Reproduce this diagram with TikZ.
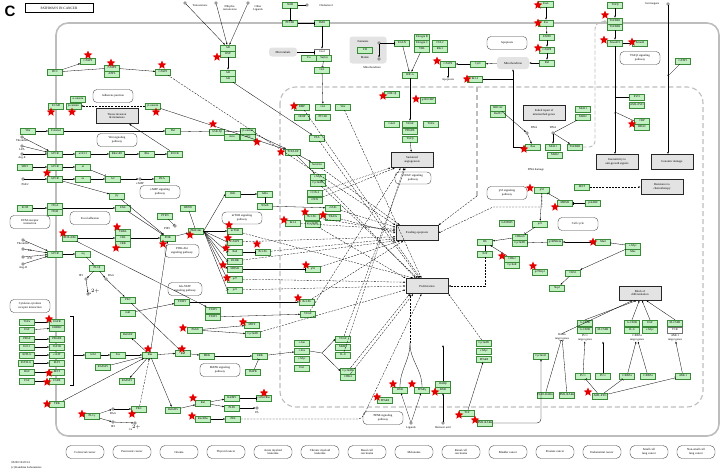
\documentclass[tikz,border=0pt]{standalone}
\usepackage{fontspec}
\setmainfont{Liberation Serif}
\newfontfamily\headfont{Liberation Sans}
\usetikzlibrary{shapes.geometric,arrows.meta}

\definecolor{genefill}{HTML}{C2F0C2}
\definecolor{genedraw}{HTML}{3A8A3A}
\definecolor{framegray}{HTML}{BDBDBD}
\definecolor{regiongray}{HTML}{E3E3E3}

\tikzset{
	gene/.style={draw=genedraw,fill=genefill,line width=.35pt,inner sep=.4pt,minimum width=15pt,minimum height=6pt,font=\fontsize{2.9}{3}\selectfont},
	geneoff/.style={gene,draw=black!55,fill=white},
	pway/.style={draw=black!75,rounded corners=4pt,line width=.35pt,align=center,inner sep=1pt,minimum width=40pt,minimum height=13pt,font=\fontsize{3}{3.5}\selectfont},
	outcome/.style={draw=black!85,fill=regiongray,line width=1pt,align=center,inner sep=1pt,minimum width=42pt,minimum height=15pt,font=\fontsize{3}{3.5}\selectfont},
	region/.style={fill=regiongray,rounded corners=3pt,align=center,inner sep=1pt,font=\fontsize{3}{3.5}\selectfont},
	cancer/.style={pway,rounded corners=5pt,minimum width=38pt,minimum height=13pt},
	cpd/.style={circle,draw=black!80,fill=white,line width=.3pt,inner sep=0pt,minimum size=2.6pt},
	lbl/.style={font=\fontsize{2.9}{3.3}\selectfont,align=center,inner sep=.3pt},
	hit/.style={star,star points=5,star point ratio=2.2,fill=red!90!black,draw=none,inner sep=0pt,minimum size=9pt},
	act/.style={-{Latex[length=2pt,width=1.6pt]},line width=.3pt},
	inh/.style={-{Bar[width=3pt]},line width=.3pt},
	ind/.style={act,dash pattern=on 2pt off 1.2pt},
	ln/.style={line width=.3pt},
	nucleus/.style={framegray,line width=1.1pt,dash pattern=on 5pt off 3pt},
}

\begin{document}
\begin{tikzpicture}[x=1pt,y=-1pt]
	\useasboundingbox (0,0) rectangle (724,471);

	\draw[framegray,line width=1.6pt,rounded corners=12pt] (56,23) rectangle (719,436);
	\draw[nucleus,rounded corners=16pt] (280,87) rectangle (703,407);
	\coordinate (mitotop) at (477,87);
	\coordinate (mitobend) at (477,196);
	\draw[nucleus] (mitotop) -- (mitobend);

	\node[font=\headfont\bfseries\fontsize{15}{15}\selectfont,inner sep=0pt] (fig) at (10,11) {C};
	\node[draw,line width=.6pt,minimum width=68pt,minimum height=9pt,inner sep=.5pt,font=\fontsize{3.4}{3.4}\selectfont] (ttl) at (59,8) {PATHWAYS IN CANCER};

	\node[region,minimum width=37pt,minimum height=27pt] (tca) at (368,50) {};
	\node[region,minimum width=28pt,minimum height=9pt] (microt) at (283,52) {Microtubule};
	\node[region,minimum width=32pt,minimum height=12pt] (mito) at (513,63) {Mitochondrion};

	\node[outcome] (tissue) at (117,116) {Tissue invasion\\\& metastasis};
	\node[outcome] (angio) at (412,160) {Sustained\\angiogenesis};
	\node[outcome] (evade) at (417,233) {Evading apoptosis};
	\node[outcome] (prolif) at (427,286) {Proliferation};
	\node[outcome] (failrep) at (544,113) {Failed repair of\\mismatched genes};
	\node[outcome] (insens) at (617,162) {Insensitivity to\\anti-growth signals};
	\node[outcome] (gdamage) at (672,162) {Genomic damage};
	\node[outcome] (resist) at (662,187) {Resistance to\\chemotherapy};
	\node[outcome,minimum height=14pt] (block) at (640,293) {Block of\\differentiation};

	\node[pway] (adh) at (113,96) {Adherens junction};
	\node[pway] (wntp) at (117,140) {Wnt signaling\\pathway};
	\node[pway] (campp) at (160,192) {cAMP signaling\\pathway};
	\node[pway] (ecmr) at (30,222) {ECM-receptor\\interaction};
	\node[pway] (focal) at (90,218) {Focal adhesion};
	\node[pway,minimum width=34pt] (pi3kp) at (182,251) {PI3K-Akt\\signaling pathway};
	\node[pway,minimum width=34pt] (jakp) at (185,289) {Jak-STAT\\signaling pathway};
	\node[pway] (cytok) at (30,306) {Cytokine-cytokine\\receptor interaction};
	\node[pway,minimum height=12pt] (mtorp) at (242,218) {mTOR signaling\\pathway};
	\node[pway] (mapkp) at (220,370) {MAPK signaling\\pathway};
	\node[pway,minimum width=36pt,minimum height=12pt] (vegfp) at (413,178) {VEGF signaling\\pathway};
	\node[pway] (p53p) at (507,193) {p53 signaling\\pathway};
	\node[pway] (cellc) at (578,224) {Cell cycle};
	\node[pway] (apopp) at (507,43) {Apoptosis};
	\node[pway] (tgfp) at (640,58) {TGF-β signaling\\pathway};
	\node[pway] (pparp) at (383,418) {PPAR signaling\\pathway};

	\node[gene] (casp9a) at (88,61) {CASP9};
	\node[gene] (dcc) at (55,72) {DCC};
	\node[gene] (casp9b) at (112,68) {CASP9};
	\node[gene] (appl) at (112,74) {APPL};
	\node[gene] (casp3) at (163,72) {CASP3};
	\node[gene] (acat) at (78,99) {α-catenin};
	\node[gene] (ecad) at (56,106) {ECAD};
	\node[gene] (bcat1) at (73.5,106) {β-catenin};
	\node[gene] (bcat2) at (153,106) {β-catenin};
	\node[gene] (wnt1) at (28,131) {Wnt};
	\node[gene] (fzd) at (56,131) {Frizzled};
	\node[gene] (dvl) at (173,131) {Dvl};
	\node[gene] (gpcr1) at (55,154) {GPCR};
	\node[gene] (ga12) at (83,154) {α12/13};
	\node[gene] (rhogef) at (117,154) {RhoGEF};
	\node[gene] (rho) at (147,154) {Rho};
	\node[gene] (rock) at (175,154) {ROCK};
	\node[gene] (sdf1) at (25,167) {SDF1};
	\node[gene] (gpcr2) at (55,167) {GPCR};
	\node[gene] (gai) at (83,167) {αi};
	\node[gene] (gpcr3) at (55,179) {GPCR};
	\node[gene] (gas) at (83,179) {αs};
	\node[gene] (ac) at (113,179) {AC};
	\node[gene] (pka) at (162,179) {PKA};
	\node[gene] (pyk) at (117,196) {βγ};
	\node[gene] (ecm) at (25,208) {ECM};
	\node[gene] (itga) at (55,206) {ITGA};
	\node[gene] (itgb) at (55,212) {ITGB};
	\node[gene] (fak) at (123,208) {FAK};
	\node[gene] (pten) at (165,216) {PTEN};
	\node[gene] (bcrabl) at (70,238) {BCR-ABL};
	\node[gene] (crkl) at (123,232) {CRKL};
	\node[gene] (cbl) at (123,238) {CBL};
	\node[gene] (crk) at (123,244) {CRK};
	\node[gene] (pi3k) at (168,238) {PI3K};
	\node[gene] (gpcr4) at (55,254) {GPCR};
	\node[gene] (gq) at (83,254) {αq};
	\node[gene] (plcb) at (97,268) {PLCβ};
	\node[gene] (pkc1) at (128,300) {PKC};
	\node[gene] (jak1) at (128,313) {Jak1};

	\node[gene] (tgfa) at (27,322) {TGFα};
	\node[gene] (egf) at (27,330) {EGF};
	\node[gene] (pdgf) at (27,339) {PDGF};
	\node[gene] (igf1) at (27,347) {IGF-1};
	\node[gene] (kitlg) at (27,355) {KITLG};
	\node[gene] (flt3lg) at (26,363) {FLT3LG};
	\node[gene] (hgf) at (27,372) {HGF};
	\node[gene] (fgf) at (27,381) {FGF};
	\node[gene] (egfr) at (57,322) {EGFR};
	\node[gene] (erbb2) at (57,328) {ERBB2};
	\node[gene] (pdgfr) at (57,339) {PDGFR};
	\node[gene] (igf1r) at (57,347) {IGF1R};
	\node[gene] (ckit) at (57,355) {c-KIT};
	\node[gene] (flt3) at (57,363) {FLT3};
	\node[gene] (met) at (57,372) {MET};
	\node[gene] (fgfr) at (57,381) {FGFR};
	\node[gene] (grb2) at (93,355) {Grb2};
	\node[gene] (sos) at (118,355) {Sos};
	\node[gene] (ras) at (150,355) {Ras};
	\node[gene] (rassf5) at (103,367) {RASSF5};
	\node[gene] (rassf1) at (127,381) {RASSF1};
	\node[gene] (rac1) at (128,335) {RalGEF};
	\node[gene] (trk) at (57,404) {TRK};
	\node[gene] (plcg) at (92,416) {PLCγ};
	\node[gene] (pkc2) at (139,409) {PKC};
	\node[gene] (ralgds) at (173,410) {RalGDS};
	\node[gene] (ral) at (203,403) {Ral};
	\node[gene] (ralbp1) at (232,398) {RalBP1};
	\node[gene] (pld1) at (232,408) {PLD1};
	\node[gene] (cdc42) at (264,398) {Cdc42/Rac};
	\node[gene] (rac2) at (203,419) {Rac/Rho};
	\node[gene] (jnk) at (233,419) {JNK};
	\node[gene] (raf) at (183,353) {Raf};
	\node[gene] (mek) at (207,356) {MEK};
	\node[gene] (erk) at (260,356) {ERK};
	\node[gene] (dapk) at (253,372) {DAPK};
	\node[gene] (stat3) at (182,302) {STAT3};
	\node[gene] (stat5a) at (213,310) {STAT5};
	\node[gene] (stat5b) at (213,317) {STAT3};
	\node[gene] (mitf) at (252,325) {MITF};
	\node[gene] (pax8) at (195,330) {PAX8};
	\node[gene] (ccnd1a) at (253,334) {CyclinD1};
	\node[gene] (cjun) at (302,343) {c-Jun};
	\node[gene] (cfos) at (302,351) {c-Fos};
	\node[gene] (cmyc5) at (302,359) {c-Myc};
	\node[gene] (ets) at (302,368) {Ets1};
	\node[gene] (vegf3) at (343,339) {VEGF};
	\node[gene] (mmps) at (343,347) {MMPs};
	\node[gene] (il8) at (343,355) {IL-8};
	\node[gene] (ccnd1b) at (348,371) {CyclinD1};
	\node[gene] (cdk4b) at (348,377) {CDK4};
	\node[gene] (vegf2) at (308,314) {VEGF};
	\node[gene] (bclxl3) at (307,302) {Bcl-XL};

	\node[gene] (hsp90) at (188,208) {HSP90};
	\node[gene] (ikk) at (233,194) {IKK};
	\node[gene] (ikba) at (265,194) {IκBα};
	\node[gene] (nfkb) at (265,206) {NFκB};
	\node[gene] (akt) at (196,231) {PKB/Akt};
	\node[gene] (mtor) at (235,231) {mTOR};
	\node[gene] (casp9c) at (235,242) {CASP9};
	\node[gene] (bad) at (235,252) {Bad};
	\node[gene] (bclxl2) at (263,252) {Bcl-XL};
	\node[gene] (fkhr) at (235,261) {FKHR};
	\node[gene] (mdm2a) at (235,269) {MDM2};
	\node[gene] (p27a) at (235,279) {p27};
	\node[gene] (p21a) at (235,290) {p21};
	\node[gene] (p53a) at (313,269) {p53};
	\node[gene] (cox2) at (315,193) {COX-2};
	\node[gene] (inos) at (315,200) {iNOS};
	\node[gene] (ciaps) at (333,208) {cIAPs};
	\node[gene] (trafs) at (333,217) {TRAFs};
	\node[gene] (bclxl1) at (312,217) {Bcl-XL};
	\node[gene] (ccnd1c) at (313,224) {CyclinD1};
	\node[gene] (bcl2a) at (293,223) {Bcl-2};
	\node[gene] (surv) at (317,165) {Survivin};
	\node[gene] (cmyc1) at (318,177) {c-Myc};
	\node[gene] (ccnd1d) at (318,183) {CyclinD1};

	\node[gene] (ar1) at (228,48) {AR};
	\node[gene] (hsp) at (228,54) {HSP};
	\node[gene] (ar2) at (228,73) {AR};
	\node[gene] (ar3) at (228,79) {AR};
	\node[gene] (shh) at (290,5) {SHH};
	\node[gene] (ptch1) at (290,23) {PTCH1};
	\node[gene] (smo) at (322,23) {SMO};
	\node[geneoff] (cos2) at (322,52) {Cos2};
	\node[gene] (fu) at (309,58) {Fu};
	\node[gene] (sufu) at (324,58) {Su(fu)};
	\node[gene] (gli1) at (322,70) {GLI};
	\node[gene] (bmp) at (302,107) {BMP};
	\node[gene] (gli2) at (323,107) {GLI};
	\node[gene] (wnt2) at (343,107) {Wnt};
	\node[gene] (hhip) at (302,117) {HHIP};
	\node[gene] (ptch2) at (323,117) {PTCH1};
	\node[gene] (gsk) at (217,132) {GSK-3β};
	\node[gene] (bcat3) at (248,131) {β-catenin};
	\node[gene] (axin) at (232,137) {Axin};
	\node[gene] (apc) at (248,137) {APC};
	\node[gene] (psa) at (317,138) {PSA};
	\node[gene] (tcf) at (293,152) {TCF/LEF};

	\node[gene] (fh) at (365,50) {FH};
	\node[gene] (egln) at (402,43) {EGLN};
	\node[gene] (elob) at (422,37) {Elongin B};
	\node[gene] (eloc) at (422,43) {Elongin C};
	\node[gene] (vhl) at (422,49) {VHL};
	\node[gene] (cul2) at (440,43) {CUL2};
	\node[gene] (rbx1) at (440,49) {Rbx1};
	\node[gene] (hifa) at (410,75) {HIF-α};
	\node[gene] (arnt) at (392,94) {HIF-1β};
	\node[gene] (cbp2) at (428,100) {p300/CBP};
	\node[gene] (glut) at (392,124) {Glut1};
	\node[gene] (vegf1) at (410,124) {VEGF};
	\node[gene] (tgfa2) at (431,124) {TGFα};
	\node[gene] (pdgfb) at (410,131) {PDGFB};
	\node[gene] (tgfb2) at (410,139) {TGFβ};
	\node[gene] (casp9d) at (448,64) {CASP9};
	\node[gene] (cytc) at (478,64) {CytC};
	\node[gene] (bcl2b) at (475,79) {Bcl-2};
	\node[gene] (brca) at (498,108) {BRCA2};
	\node[gene] (rad51) at (498,114) {Rad51};
	\node[gene] (bax) at (533,147) {Bax};

	\node[gene] (fasl) at (546,4) {FasL};
	\node[gene] (fas) at (546,23) {Fas};
	\node[gene] (fadd) at (547,37) {FADD};
	\node[gene] (casp8) at (547,50) {CASP8};
	\node[gene] (bid) at (547,63) {Bid};
	\node[gene] (tgfb) at (615,5) {TGFβ};
	\node[gene] (tgfbr1) at (615,21) {TGFBR1};
	\node[gene] (tgfbr2) at (615,27) {TGFBR2};
	\node[gene] (smad23) at (615,43) {Smad2/3};
	\node[gene] (smad4) at (640,43) {Smad4};
	\node[gene] (gstp1) at (683,61) {GSTP1};
	\node[gene] (evi1) at (637,97) {EVI1};
	\node[gene] (amlevi) at (637,105) {AML-EVI1};
	\node[gene] (cbp) at (642,121) {CBP};
	\node[gene] (hdac) at (642,127) {HDAC};
	\node[gene] (mlh1) at (583,109) {MLH1};
	\node[gene] (msh2) at (583,117) {MSH2};
	\node[gene] (mlh1b) at (553,147) {MLH1};
	\node[gene] (msh6) at (555,155) {MSH2};
	\node[gene] (tgfbr2b) at (575,147) {TGFBR2};

	\node[gene] (p53b) at (542,190) {p53};
	\node[gene] (p21b) at (540,224) {p21};
	\node[gene] (gadd) at (507,223) {GADD45};
	\node[gene] (cdk46) at (520,237) {CDK4/6};
	\node[gene] (ccnd1e) at (520,243) {CyclinD1};
	\node[gene] (rb) at (485,242) {Rb};
	\node[gene] (e2f) at (485,254) {E2F};
	\node[gene] (cdk2) at (512,259) {CDK2};
	\node[gene] (ccne) at (512,265) {CyclinE};
	\node[gene] (p27b) at (540,272) {p27Kip1};
	\node[gene] (mdm2b) at (565,203) {MDM2};
	\node[gene] (arf) at (593,203) {p14ARF};
	\node[gene] (met2) at (582,187) {MET};
	\node[gene] (p15) at (555,242) {p16INK4a};
	\node[gene] (mad) at (603,242) {Mad};
	\node[gene] (cmyc2) at (633,246) {c-Myc};
	\node[gene] (max) at (633,252) {Max};
	\node[gene] (cks1) at (573,273) {CKS1};
	\node[gene] (skp2) at (557,288) {Skp2};

	\node[gene] (csf1r) at (585,323) {G-CSFR};
	\node[gene] (gcsfr) at (585,330) {G-CSFR};
	\node[gene] (mcsfr) at (603,330) {M-CSFR};
	\node[gene] (gcsfr2) at (632,323) {G-CSFR};
	\node[gene] (igfx) at (650,323) {EGF};
	\node[gene] (il6) at (632,330) {IL-6};
	\node[gene] (cmyc3) at (650,330) {c-Myc};
	\node[gene] (mcsfr2) at (675,323) {M-CSFR};
	\node[geneoff] (tcr) at (675,330) {TCR};
	\node[gene] (pu1a) at (583,376) {PU.1};
	\node[gene] (pu1b) at (603,376) {PU.1};
	\node[gene] (cebpa1) at (627,376) {C/EBPα};
	\node[gene] (cebpa2) at (648,376) {C/EBPα};
	\node[gene] (aml1) at (683,376) {AML1};
	\node[gene] (plzf) at (545,395) {PLZF-RARα};
	\node[gene] (pmlrar2) at (567,395) {PML-RARα};
	\node[gene] (amleto) at (600,396) {AML-ETO};
	\node[gene] (ccna1) at (541,356) {CyclinA1};

	\node[gene] (ppard) at (385,400) {PPARδ};
	\node[gene] (rxr1) at (400,390) {RXR};
	\node[gene] (pparg) at (422,390) {PPARγ};
	\node[gene] (rarb) at (443,384) {RARβ};
	\node[gene] (rxr2) at (443,390) {RXR};
	\node[gene] (tcf2) at (467,413) {TCF};
	\node[gene] (pml) at (485,423) {PML-RARα};
	\node[gene] (ccnd1f) at (484,343) {CyclinD1};
	\node[gene] (cmyc4) at (484,351) {c-Myc};
	\node[gene] (ppard2) at (484,359) {PPARδ};

	\node[cpd] (testos) at (185,3) {};
	\node[lbl] (testoslbl) at (200,6) {Testosterone};
	\node[cpd] (dht) at (216,3) {};
	\node[lbl] (dhtlbl) at (230,8) {Dihydro-\\testosterone};
	\node[cpd] (othlig) at (248,3) {};
	\node[lbl] (othliglbl) at (258,8) {Other\\Ligands};
	\node[cpd] (chol) at (307,5) {};
	\node[lbl] (chollbl) at (326,6) {Cholesterol};
	\node[cpd] (fum) at (379,43) {};
	\node[lbl] (fumlbl) at (363,42) {Fumarate};
	\node[cpd] (mal) at (379,59) {};
	\node[lbl] (mallbl) at (365,58) {Malate};
	\node[lbl] (mitolbl) at (372,68) {Mitochondrion};
	\node[lbl] (apopt) at (448,80) {Apoptosis};
	\node[cpd] (dna1) at (527,133) {};
	\node[lbl] (dna1lbl) at (534,128) {DNA};
	\node[cpd] (dna2) at (553,133) {};
	\node[lbl] (dna2lbl) at (553,128) {DNA};
	\node[lbl] (dnadam) at (536,170) {DNA damage};
	\node[cpd] (carc) at (668,4) {};
	\node[lbl] (carclbl) at (652,4) {Carcinogens};
	\node[cpd] (camp) at (140,179) {};
	\node[lbl] (camplbl) at (140,184) {cAMP};
	\node[cpd] (pge2) at (23,179) {};
	\node[lbl] (pge2lbl) at (25,185) {PGE2};
	\node[cpd] (pip3) at (175,226) {};
	\node[lbl] (pip3lbl) at (167,229) {PIP3};
	\node[cpd] (ip3a) at (86,279) {};
	\node[lbl] (ip3albl) at (81,276) {IP3};
	\node[cpd] (daga) at (106,279) {};
	\node[lbl] (dagalbl) at (111,276) {DAG};
	\node[cpd] (caa) at (88,294) {};
	\node[lbl] (caalbl) at (94,292) {Ca$^{2+}$};
	\node[cpd] (dagb) at (113,409) {};
	\node[lbl] (dagblbl) at (113,414) {DAG};
	\node[cpd] (ip3b) at (113,422) {};
	\node[lbl] (ip3blbl) at (113,427) {IP3};
	\node[cpd] (cab) at (135,423) {};
	\node[lbl] (cablbl) at (135,428) {Ca$^{2+}$};
	\node[cpd] (pa) at (257,408) {};
	\node[lbl] (palbl) at (257,413) {PA};
	\node[cpd] (lig) at (411,423) {};
	\node[lbl] (liglbl) at (411,428) {Ligands};
	\node[cpd] (retac) at (443,423) {};
	\node[lbl] (retaclbl) at (443,428) {Retinoic acid};
	\node[cpd] (thr1) at (22,137) {};
	\node[lbl] (thr1lbl) at (22,141) {Thrombin};
	\node[cpd] (lpa) at (22,146) {};
	\node[lbl] (lpalbl) at (22,150) {LPA};
	\node[cpd] (arge1) at (22,154) {};
	\node[lbl] (arge1lbl) at (22,158) {Arg-E};
	\node[cpd] (thr2) at (23,240) {};
	\node[lbl] (thr2lbl) at (23,244) {Thrombin};
	\node[cpd] (bk) at (23,249) {};
	\node[lbl] (bklbl) at (30,251) {BK};
	\node[cpd] (et1) at (23,257) {};
	\node[lbl] (et1lbl) at (30,259) {ET1};
	\node[cpd] (ang2) at (23,264) {};
	\node[lbl] (ang2lbl) at (23,268) {Ang-II};
	\node[lbl] (rarlbl) at (562,337) {RARα\\target genes};
	\node[lbl] (pu1lbl) at (585,338) {PU.1\\target genes};
	\node[lbl] (cebpalbl) at (637,338) {C/EBPα\\target genes};
	\node[lbl] (aml1lbl) at (675,338) {AML1\\target genes};
	\node[lbl,anchor=west] (ver) at (11,463) {05200 10/20/14};
	\node[lbl,anchor=west] (copy) at (11,468) {(c) Kanehisa Laboratories};

	\node[cancer] (crc) at (85,452) {Colorectal cancer};
	\node[cancer] (pancr) at (132,452) {Pancreatic cancer};
	\node[cancer] (glioma) at (179,452) {Glioma};
	\node[cancer] (thyr) at (226,452) {Thyroid cancer};
	\node[cancer] (aml) at (273,452) {Acute myeloid\\leukemia};
	\node[cancer] (cml) at (320,452) {Chronic myeloid\\leukemia};
	\node[cancer] (bcc) at (367,452) {Basal cell\\carcinoma};
	\node[cancer] (melan) at (414,452) {Melanoma};
	\node[cancer] (rcc) at (461,452) {Renal cell\\carcinoma};
	\node[cancer] (bladder) at (508,452) {Bladder cancer};
	\node[cancer] (prost) at (555,452) {Prostate cancer};
	\node[cancer] (endom) at (602,452) {Endometrial cancer};
	\node[cancer] (sclc) at (649,452) {Small cell\\lung cancer};
	\node[cancer] (nsclc) at (696,452) {Non-small cell\\lung cancer};

	\coordinate (brktop) at (70,316);
	\coordinate (brkbot) at (70,385);
	\coordinate (brk) at (73,355);
	\coordinate (baxline) at (513,79);
	\coordinate (smadax1) at (615,97);
	\coordinate (smadax2) at (615,112);
	\coordinate (carcax) at (668,76);
	\coordinate (p53bend) at (493,207);
	\coordinate (apsplit) at (322,353);
	\coordinate (pparup) at (410,343);
	\coordinate (rarup) at (443,345);
	\coordinate (jnkbend) at (362,419);
	\coordinate (tgfbend) at (595,147);
	\coordinate (tgfbtop) at (595,23);

	\draw[act] (dcc) -- (casp9a);
	\draw[ln] (dcc) -- (casp9b);
	\draw[act] (casp9b) -- (casp3);
	\draw[ind] (casp3) -- (evade.160);
	\draw[ind] (bcat2) -- (bcat1);
	\draw[act] (bcat2) -- (tcf);
	\draw[act] (wnt1) -- (fzd);
	\draw[act] (fzd) -- (dvl);
	\draw[inh] (dvl) -- (gsk);
	\draw[act] (thr1) -- (gpcr1);
	\draw[act] (lpa) -- (gpcr1);
	\draw[act] (arge1) -- (gpcr1);
	\draw[act] (gpcr1) -- (ga12);
	\draw[act] (ga12) -- (rhogef);
	\draw[act] (rhogef) -- (rho);
	\draw[act] (rho) -- (rock);
	\draw[act] (rock) -- (tissue);
	\draw[act] (sdf1) -- (gpcr2);
	\draw[act] (gpcr2) -- (gai);
	\draw[inh] (gai) -- (ac);
	\draw[act] (pge2) -- (gpcr3);
	\draw[act] (gpcr3) -- (gas);
	\draw[act] (gas) -- (ac);
	\draw[act] (ac) -- (camp);
	\draw[act] (camp) -- (pka);
	\draw[act] (gpcr3) -- (pyk);
	\draw[act] (pyk) -- (pi3k);
	\draw[act] (ecm) -- (ecm -| itga.west);
	\draw[act] (itga.east |- fak) -- (fak);
	\draw[act] (fak) -- (pi3k);
	\draw[act] (bcrabl) -- (cbl);
	\draw[act] (cbl) -- (pi3k);
	\draw[act] (bcrabl) -- (stat5a);
	\draw[act] (thr2) -- (gpcr4);
	\draw[act] (bk) -- (gpcr4);
	\draw[act] (et1) -- (gpcr4);
	\draw[act] (ang2) -- (gpcr4);
	\draw[act] (gpcr4) -- (gq);
	\draw[act] (gq) -- (plcb);
	\draw[act] (plcb) -- (ip3a);
	\draw[act] (plcb) -- (daga);
	\draw[act] (ip3a) -- (caa);
	\draw[act] (daga) -- (pkc1);
	\draw[act] (pkc1) -- (raf);
	\draw[act] (jak1) -- (stat3);
	\draw[act] (stat3) -- (bclxl3);
	\draw[act] (stat5b) -- (vegf2);

	\draw[act] (tgfa) -- (egfr);
	\draw[act] (egf) -- (erbb2);
	\draw[act] (pdgf) -- (pdgfr);
	\draw[act] (igf1) -- (igf1r);
	\draw[act] (kitlg) -- (ckit);
	\draw[act] (flt3lg) -- (flt3);
	\draw[act] (hgf) -- (met);
	\draw[act] (fgf) -- (fgfr);
	\draw[ln] (brktop) -- ++(3,0) -- ++(0,69) -- (brkbot);
	\draw[act] (brk) -- (grb2);
	\draw[act] (grb2) -- (sos);
	\draw[act] (sos) -- (ras);
	\draw[act] (ras) -- (raf);
	\draw[act] (raf) -- (mek);
	\draw[act] (mek) -- (erk);
	\draw[inh] (dapk) -- (erk);
	\draw[act] (ras) -- (pi3k);
	\draw[act] (ras) -- (rac1);
	\draw[act] (ras) -- (rassf1);
	\draw[ln] (rassf5) -- (ras);
	\draw[act] (ras) -- (ralgds);
	\draw[act] (ralgds) -- (ral);
	\draw[act] (ral) -- (ralbp1);
	\draw[act] (ral) -- (pld1);
	\draw[act] (pld1) -- (pa);
	\draw[inh] (ralbp1) -- (cdc42);
	\draw[act] (trk) -- (ras);
	\draw[act] (plcg) -- (dagb);
	\draw[act] (plcg) -- (ip3b);
	\draw[act] (ip3b) -- (cab);
	\draw[act] (dagb) -- (pkc2);
	\draw[ind] (pkc2) -- (ras);
	\draw[act] (rac2) -- (jnk);
	\draw[ind,rounded corners=4pt] (jnk) -- (jnkbend) -- (prolif.235);
	\draw[act] (erk) -- (cfos);
	\draw[ln] (cfos.east) -- (apsplit);
	\draw[act] (apsplit) -- (vegf3.west);
	\draw[act] (apsplit) -- (ccnd1b.west);
	\draw[act] (pax8) -- (mitf);
	\draw[act] (pax8) -- (ccnd1a);

	\draw[act] (pi3k) -- (akt);
	\draw[inh] (pten) -- (pip3);
	\draw[ln] (hsp90) -- (akt);
	\draw[act] (akt.east) -- (ikk.west);
	\draw[act] (akt.east) -- (mtor.west);
	\draw[inh] (akt.east) -- (casp9c.west);
	\draw[inh] (akt.east) -- (bad.west);
	\draw[inh] (akt.east) -- (fkhr.west);
	\draw[act] (akt.east) -- (mdm2a.west);
	\draw[inh] (akt.east) -- (p27a.west);
	\draw[inh] (akt.east) -- (p21a.west);
	\draw[act] (ikk) -- (ikba);
	\draw[ln] (ikba) -- (nfkb);
	\draw[act] (nfkb) -- (ciaps);
	\draw[inh] (bad) -- (bclxl2);
	\draw[inh] (mdm2a) -- (p53a);

	\draw[ind] (mtor) -- (prolif.150);
	\draw[ind] (casp9c) -- (evade.190);
	\draw[ind] (bclxl2) -- (evade.195);
	\draw[ind] (fkhr) -- (evade.200);
	\draw[ind] (p53a) -- (evade.205);
	\draw[ind] (p27a) -- (prolif.170);
	\draw[ind] (p21a) -- (prolif.180);
	\draw[ind] (bcl2a) -- (evade.170);
	\draw[ind] (bclxl1) -- (evade.175);
	\draw[ind] (ciaps) -- (evade.165);
	\draw[ind] (trafs) -- (evade.180);
	\draw[ind] (ccnd1c) -- (prolif.160);
	\draw[ind] (cox2) -- (angio.200);
	\draw[ind] (inos) -- (angio.205);
	\draw[ind] (surv) -- (evade.155);
	\draw[ind] (cmyc1) -- (prolif.145);
	\draw[ind] (ccnd1d) -- (prolif.140);
	\draw[ind] (bclxl3) -- (evade.210);
	\draw[ind] (vegf2) -- (angio.215);
	\draw[ind] (ccnd1a) -- (prolif.190);
	\draw[ind] (cdk4b) -- (prolif.210);
	\draw[ind] (ccnd1b) -- (prolif.205);
	\draw[ind] (il8) -- (angio.225);
	\draw[ind] (vegf3) -- (angio.230);
	\draw[ind] (psa) -- (prolif.135);
	\draw[ind] (bmp) -- (prolif.130);
	\draw[ind] (wnt2) -- (prolif.125);
	\draw[ind] (ccnd1f) -- (prolif.south east);
	\draw[ind] (mitobend) -- (evade.20);

	\draw[act] (testos) -- (ar1);
	\draw[act] (dht) -- (ar1);
	\draw[act] (othlig) -- (ar1);
	\draw[act] (hsp) -- (ar2);
	\draw[act] (ar3) -- (psa);
	\draw[ln] (chol) -- (shh);
	\draw[inh] (shh) -- (ptch1);
	\draw[inh] (ptch1) -- (smo);
	\draw[act] (smo) -- (cos2);
	\draw[inh] (microt) -- (cos2);
	\draw[inh] (sufu) -- (gli1);
	\draw[act] (gli1) -- (gli2);
	\draw[inh] (gsk) -- (bcat3);
	\draw[act] (bcat3) -- (tcf);
	\draw[act] (tcf) -- (surv);
	\draw[act] (tcf) -- (cmyc1);

	\draw[act] (fum) -- (mal);
	\draw[inh] (fum) -- (egln);
	\draw[act] (egln) -- (hifa);
	\draw[act] (vhl) -- (hifa);
	\draw[act] (hifa) -- (vegf1);
	\draw[act] (tgfb2) -- (angio);
	\draw[act] (mito) -- (cytc);
	\draw[act] (cytc) -- (casp9d);
	\draw[act] (casp9d) -- (apopt);
	\draw[act] (bax) -| (mito);
	\draw[inh] (bcl2b) -- (baxline);
	\draw[act] (fasl) -- (fas);
	\draw[act] (fas) -- (fadd);
	\draw[act] (fadd) -- (casp8);
	\draw[act] (casp8) -- (bid);
	\draw[act] (bid) -- (mito);
	\draw[act] (brca) -- (dna1);
	\draw[act] (dna1) -- (bax);
	\draw[ln] (msh2) -- (dna2);
	\draw[act] (dna2) -- (mlh1b);
	\draw[act] (dna2) -- (tgfbr2b);
	\draw[framegray,line width=.9pt,dash pattern=on 4pt off 2pt,rounded corners=6pt,-{Latex[length=3pt,width=2.5pt]}] (tgfbr2b.east) -- (tgfbend) -- (tgfbtop) -- (tgfbr1.west);

	\draw[act] (tgfb) -- (tgfbr1);
	\draw[act] (tgfbr2) -- (smad23);
	\draw[ln] (smad23) -- (smad4);
	\draw[act] (smad23.south) -- (smad23.south |- insens.north);
	\draw[inh] (evi1.west) -- (smadax1);
	\draw[inh] (cbp.west) -- (smadax2);
	\draw[act] (carc) -- (carc |- gdamage.north);
	\draw[inh] (gstp1) -- (carcax);

	\draw[act] (p53b) -- (p21b);
	\draw[inh] (p21b) -- (cdk46);
	\draw[inh] (mdm2b) -- (p53b);
	\draw[inh] (arf) -- (mdm2b);
	\draw[act] (cdk46) -- (rb);
	\draw[ln] (rb) -- (e2f);
	\draw[act] (cdk2) -- (rb);
	\draw[inh] (p15) -- (ccnd1e);
	\draw[ind] (e2f) |- (prolif.east);
	\draw[ind] (p53b.south) |- (p53bend) -- (evade.east);
	\draw[ind] (met2) -- (resist);
	\draw[act] (mad) -- (p15);
	\draw[inh] (cmyc2) -- (mad);
	\draw[act] (cmyc2) -- (cks1);
	\draw[act] (cks1) -- (skp2);

	\draw[act] (pu1a) -- (pu1lbl);
	\draw[act] (pu1b) -- (pu1b |- pu1lbl.south);
	\draw[act] (cebpa1) -- (cebpalbl);
	\draw[act] (cebpa2) -- (cebpalbl);
	\draw[act] (aml1) -- (aml1lbl);
	\draw[act] (rarlbl.north) -- (block.225);
	\draw[act] (csf1r.north) -- (block.245);
	\draw[act] (gcsfr2.north) -- (block.265);
	\draw[act] (igfx.north) -- (block.285);
	\draw[act] (mcsfr2.north) -- (block.310);
	\draw[inh] (amleto) -- (pu1a);
	\draw[inh] (amleto) -- (cebpa1);
	\draw[inh] (amleto) -- (aml1);
	\draw[inh] (pmlrar2) -- (rarlbl);
	\draw[inh] (plzf) -- (rarlbl);

	\draw[act] (lig) -- (rxr1);
	\draw[act] (lig) -- (pparg);
	\draw[act] (retac) -- (rxr2);
	\draw[ln] (rxr1.north) to[out=90,in=-90] (pparup);
	\draw[ln] (pparg.north) to[out=90,in=-90] (pparup);
	\draw[ind] (pparup) -- (pparup |- prolif.south);
	\draw[act] (rarb.north) -- (rarup);
	\draw[act] (tcf2) -- (ppard2);
	\draw[act,rounded corners=4pt] (pml.east) -| (ccna1.south);

	\node[hit] (s1) at (88,55) {};
	\node[hit] (s2) at (111,63) {};
	\node[hit] (s3) at (162,65) {};
	\node[hit] (s4) at (51,112) {};
	\node[hit] (s5) at (72,112) {};
	\node[hit] (s6) at (156,112) {};
	\node[hit] (s7) at (47,173) {};
	\node[hit] (s8) at (63,233) {};
	\node[hit] (s9) at (117,227) {};
	\node[hit] (s10) at (116,248) {};
	\node[hit] (s11) at (163,244) {};
	\node[hit] (s12) at (49,319) {};
	\node[hit] (s13) at (49,373) {};
	\node[hit] (s14) at (47,382) {};
	\node[hit] (s15) at (148,349) {};
	\node[hit] (s16) at (47,404) {};
	\node[hit] (s17) at (82,414) {};
	\node[hit] (s18) at (132,414) {};
	\node[hit] (s19) at (193,398) {};
	\node[hit] (s20) at (264,393) {};
	\node[hit] (s21) at (192,416) {};
	\node[hit] (s22) at (243,322) {};
	\node[hit] (s23) at (183,328) {};
	\node[hit] (s24) at (182,349) {};
	\node[hit] (s25) at (284,220) {};
	\node[hit] (s26) at (305,212) {};
	\node[hit] (s27) at (323,215) {};
	\node[hit] (s28) at (190,235) {};
	\node[hit] (s29) at (229,225) {};
	\node[hit] (s30) at (228,238) {};
	\node[hit] (s31) at (226,248) {};
	\node[hit] (s32) at (257,244) {};
	\node[hit] (s33) at (223,265) {};
	\node[hit] (s34) at (306,265) {};
	\node[hit] (s35) at (227,278) {};
	\node[hit] (s36) at (298,298) {};
	\node[hit] (s37) at (217,57) {};
	\node[hit] (s38) at (294,106) {};
	\node[hit] (s39) at (213,124) {};
	\node[hit] (s40) at (257,142) {};
	\node[hit] (s41) at (281,152) {};
	\node[hit] (s42) at (437,61) {};
	\node[hit] (s43) at (467,79) {};
	\node[hit] (s44) at (383,96) {};
	\node[hit] (s45) at (416,99) {};
	\node[hit] (s46) at (524,149) {};
	\node[hit] (s47) at (538,5) {};
	\node[hit] (s48) at (538,23) {};
	\node[hit] (s49) at (538,48) {};
	\node[hit] (s50) at (605,15) {};
	\node[hit] (s51) at (604,40) {};
	\node[hit] (s52) at (632,42) {};
	\node[hit] (s53) at (632,124) {};
	\node[hit] (s54) at (530,188) {};
	\node[hit] (s55) at (502,256) {};
	\node[hit] (s56) at (533,266) {};
	\node[hit] (s57) at (555,207) {};
	\node[hit] (s58) at (593,242) {};
	\node[hit] (s59) at (377,397) {};
	\node[hit] (s60) at (393,384) {};
	\node[hit] (s61) at (412,384) {};
	\node[hit] (s62) at (435,392) {};
	\node[hit] (s63) at (459,415) {};
	\node[hit] (s64) at (475,420) {};
	\node[hit] (s65) at (588,392) {};
\end{tikzpicture}
\end{document}
